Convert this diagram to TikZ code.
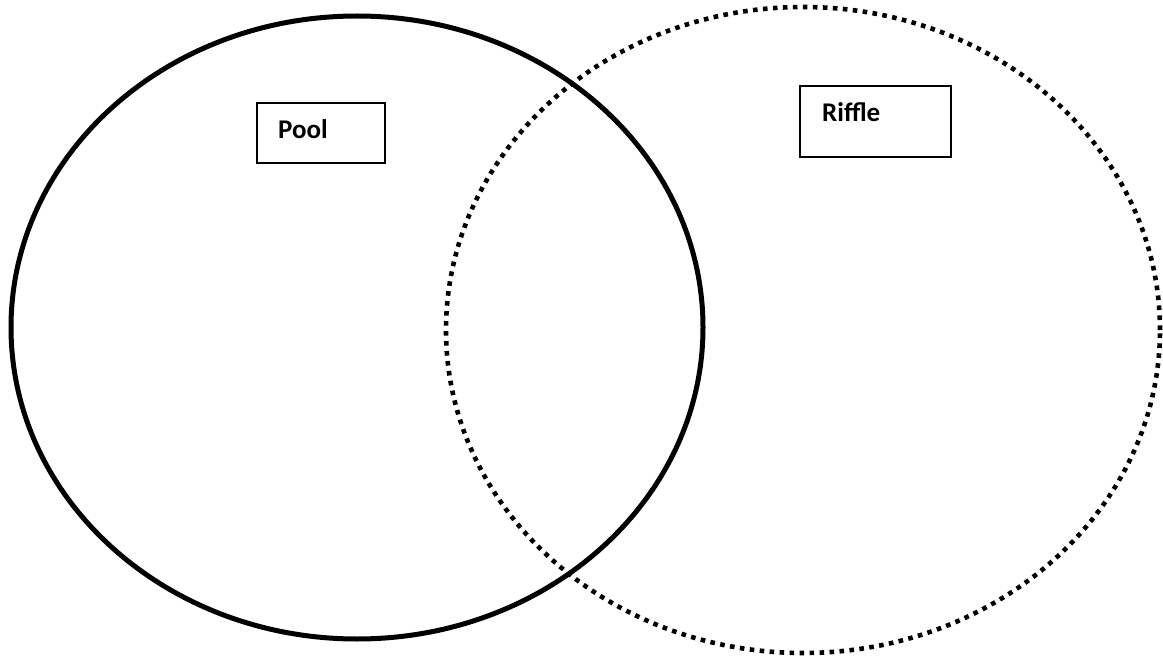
\documentclass[tikz,border=0pt]{standalone}
\usepackage{fontspec}
\setmainfont{Carlito}
\usetikzlibrary{shapes.geometric}
\begin{document}
\begin{tikzpicture}[x=1pt,y=-1pt,
  venn/.style={ellipse, inner sep=0pt, outer sep=0pt},
  solidring/.style={venn, draw=black, line width=5pt},
  dotring/.style={venn, draw=black, line width=4.6pt, dash pattern=on 4.6pt off 5.4pt},
  labelbox/.style={draw=black, line width=1.8pt, inner sep=0pt, outer sep=0pt},
  labeltext/.style={font=\fontsize{27}{32}\selectfont\bfseries, inner sep=0pt, anchor=base west}]
\useasboundingbox (0,0) rectangle (1163,658);
\node[solidring, minimum width=692pt, minimum height=623pt] (pool) at (357,327.5) {};
\node[dotring, minimum width=714pt, minimum height=646pt] (riffle) at (803,330) {};
\node[labelbox, minimum width=128pt, minimum height=60pt] (poolbox) at (321,133) {};
\node[labelbox, minimum width=151pt, minimum height=71pt] (rifflebox) at (875.5,121.5) {};
\node[labeltext] (pooltext) at (278,139) {Pool};
\node[labeltext] (riffletext) at (822,122) {Riffle};
\end{tikzpicture}
\end{document}
